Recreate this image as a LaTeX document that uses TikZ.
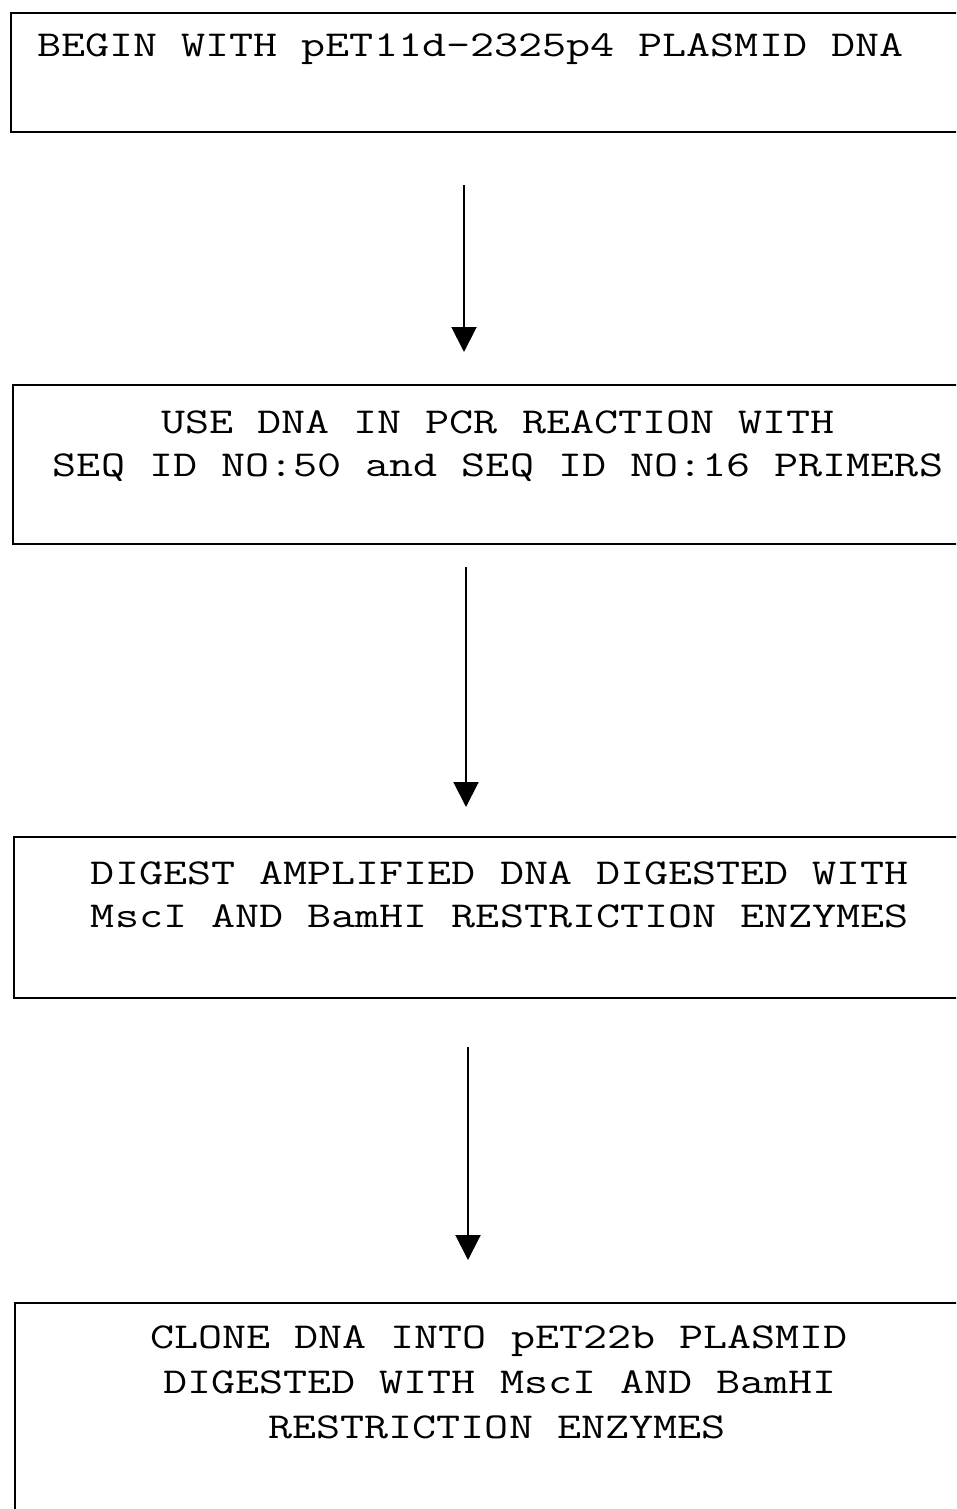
\documentclass[tikz,border=0pt]{standalone}
\usetikzlibrary{arrows.meta}
\newcommand{\cw}[1]{\scalebox{1.28}[1]{#1}}
\begin{document}
\begin{tikzpicture}[x=1pt,y=1pt,
  box/.style={draw=black, line width=1.8pt, rectangle, inner sep=0pt, anchor=north west},
  txt/.style={font=\ttfamily\fontsize{36.5}{44}\selectfont, inner sep=0pt},
  flow/.style={line width=2pt, -{Triangle[width=25pt,length=25pt]}}]
\clip (0,0) rectangle (956,-1509);
% boxes
\node[box, minimum width=960pt, minimum height=119pt] (b1) at (10,-12) {};
\node[box, minimum width=960pt, minimum height=159pt] (b2) at (12,-384) {};
\node[box, minimum width=960pt, minimum height=161pt] (b3) at (13,-836) {};
\node[box, minimum width=960pt, minimum height=230pt] (b4) at (14,-1302) {};
% texts
\node[txt, anchor=base west] (t1) at (37,-57) {\cw{BEGIN WITH pET11d-2325p4 PLASMID DNA}};
\node[txt, anchor=base] (t2a) at (498,-433) {\cw{USE DNA IN PCR REACTION WITH}};
\node[txt, anchor=base] (t2b) at (498,-476) {\cw{SEQ ID NO:50 and SEQ ID NO:16 PRIMERS}};
\node[txt, anchor=base] (t3a) at (500,-884) {\cw{DIGEST AMPLIFIED DNA DIGESTED WITH}};
\node[txt, anchor=base] (t3b) at (500,-927) {\cw{MscI AND BamHI RESTRICTION ENZYMES}};
\node[txt, anchor=base] (t4a) at (499,-1348) {\cw{CLONE DNA INTO pET22b PLASMID}};
\node[txt, anchor=base] (t4b) at (500,-1393) {\cw{DIGESTED WITH MscI AND BamHI}};
\node[txt, anchor=base] (t4c) at (497,-1438) {\cw{RESTRICTION ENZYMES}};
% arrows
\coordinate (a1s) at (464,-185);
\coordinate (a1e) at (464,-352);
\coordinate (a2s) at (466,-567);
\coordinate (a2e) at (466,-807);
\coordinate (a3s) at (468,-1047);
\coordinate (a3e) at (468,-1260);
\draw[flow] (a1s) -- (a1e);
\draw[flow] (a2s) -- (a2e);
\draw[flow] (a3s) -- (a3e);
\end{tikzpicture}
\end{document}
